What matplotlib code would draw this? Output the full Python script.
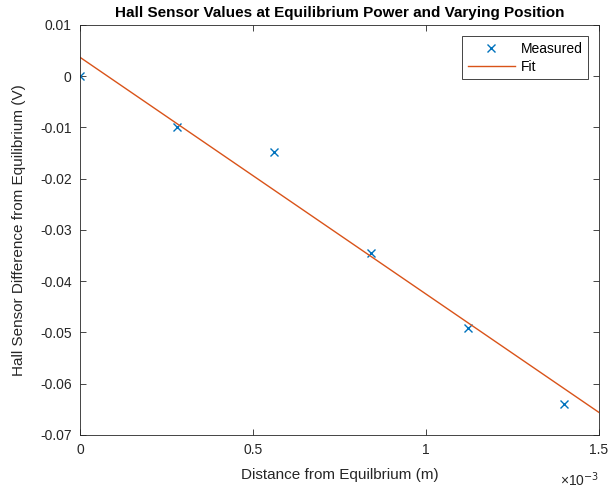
import matplotlib
matplotlib.use("Agg")
import matplotlib.pyplot as plt

# measured hall sensor values
distance = [0.0, 0.28e-3, 0.56e-3, 0.84e-3, 1.12e-3, 1.40e-3]
voltage = [0.0, -0.0099, -0.0148, -0.0344, -0.0492, -0.0639]

# fit line end points
fit_x = [0.0, 1.5e-3]
fit_y = [0.0037, -0.0656]

x_ticks = [0.0, 0.5e-3, 1.0e-3, 1.5e-3]
x_tick_labels = ["0", "0.5", "1", "1.5"]
y_ticks = [0.01, 0.0, -0.01, -0.02, -0.03, -0.04, -0.05, -0.06, -0.07]
y_tick_labels = ["0.01", "0", "-0.01", "-0.02", "-0.03", "-0.04", "-0.05", "-0.06", "-0.07"]

plt.rcParams["font.family"] = ["Liberation Sans", "DejaVu Sans"]
axis_col = "#262626"

fig = plt.figure(figsize=(6.13, 4.95), dpi=100)
ax = fig.add_axes([80 / 613, 60 / 495, 519 / 613, 410 / 495])

ax.plot(distance, voltage, "x", color="#0072BD", markersize=5.5, markeredgewidth=1.0, label="Measured")
ax.plot(fit_x, fit_y, "-", color="#D95319", linewidth=1.0, label="Fit")

ax.set_xlim(0, 1.5e-3)
ax.set_ylim(-0.07, 0.01)
ax.set_xticks(x_ticks)
ax.set_xticklabels(x_tick_labels)
ax.set_yticks(y_ticks)
ax.set_yticklabels(y_tick_labels)
ax.tick_params(direction="in", top=True, right=True, labelsize=10, colors=axis_col, length=4, width=0.6, pad=6)
for sp in ax.spines.values():
    sp.set_color(axis_col)
    sp.set_linewidth(0.6)

ax.set_xlabel("Distance from Equilbrium (m)", fontsize=11, color=axis_col, labelpad=8)
ax.set_ylabel("Hall Sensor Difference from Equilibrium (V)", fontsize=11, color=axis_col, labelpad=10)
ax.set_title("Hall Sensor Values at Equilibrium Power and Varying Position", fontsize=11, fontweight="bold", pad=5.5)
ax.text(1.0, -0.11, "\u00d710$^{-3}$", transform=ax.transAxes, ha="right", va="center", fontsize=10, color=axis_col)

leg = ax.legend(loc="upper right", fontsize=10, frameon=True, fancybox=False, framealpha=1,
                edgecolor=axis_col, borderpad=0.4, handlelength=3.4, handletextpad=0.4,
                labelspacing=0.3, borderaxespad=0.8)
leg.get_frame().set_linewidth(0.6)

plt.savefig("out.png", dpi=100)
